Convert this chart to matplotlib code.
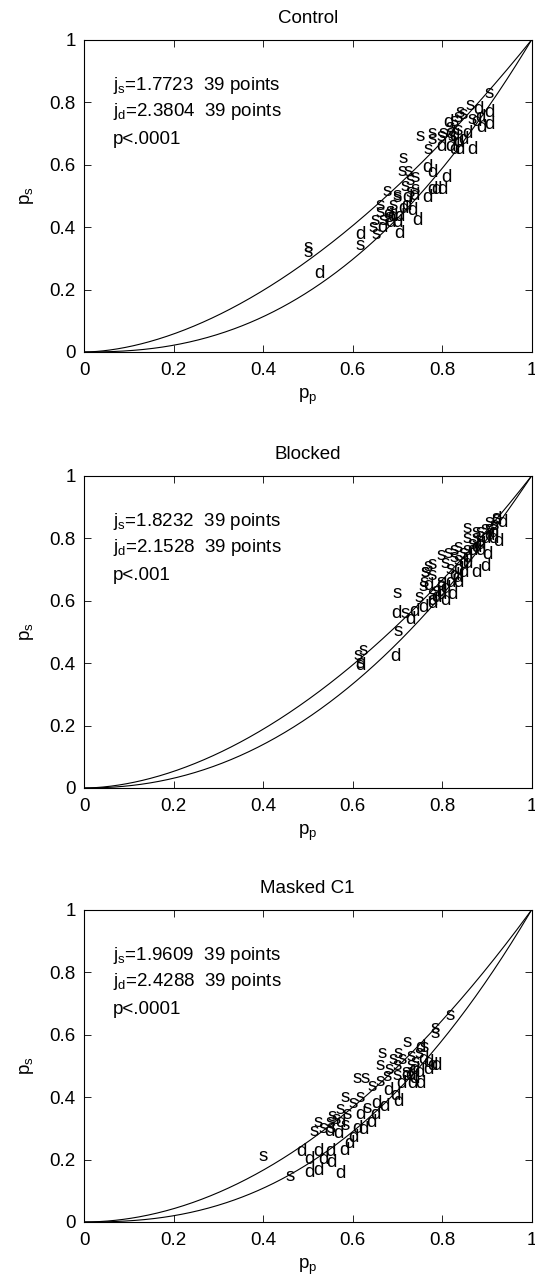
import matplotlib
matplotlib.use("Agg")
import matplotlib.pyplot as plt
import numpy as np

plt.rcParams['font.family'] = ['Liberation Sans', 'DejaVu Sans']
plt.rcParams['mathtext.fontset'] = 'custom'
plt.rcParams['mathtext.rm'] = 'Liberation Sans'
plt.rcParams['mathtext.it'] = 'Liberation Sans'
plt.rcParams['mathtext.default'] = 'regular'

titles = ["Control", "Blocked", "Masked C1"]
j_s = [1.7723, 1.8232, 1.9609]
j_d = [2.3804, 2.1528, 2.4288]
p_text = ["p<.0001", "p<.001", "p<.0001"]
n_points = [39, 39, 39]

# Panel 1 (Control)
ctrl_s_x = [0.905, 0.863, 0.840, 0.867, 0.837, 0.751, 0.778, 0.769, 0.802, 0.823, 0.713, 0.710, 0.724,
            0.729, 0.717, 0.729, 0.677, 0.661, 0.699, 0.690, 0.684, 0.661, 0.650, 0.668, 0.646, 0.652,
            0.617, 0.501, 0.501, 0.818, 0.827, 0.847, 0.779, 0.798, 0.739, 0.700, 0.681, 0.739, 0.837]
ctrl_s_y = [0.83, 0.79, 0.767, 0.745, 0.75, 0.69, 0.68, 0.65, 0.70, 0.69, 0.62, 0.58, 0.58,
            0.55, 0.53, 0.51, 0.515, 0.47, 0.495, 0.47, 0.45, 0.447, 0.42, 0.42, 0.40, 0.377,
            0.34, 0.335, 0.32, 0.72, 0.74, 0.76, 0.70, 0.69, 0.56, 0.50, 0.43, 0.52, 0.71]
ctrl_d_x = [0.882, 0.905, 0.814, 0.889, 0.905, 0.818, 0.840, 0.867, 0.847, 0.767, 0.779, 0.811, 0.788,
            0.802, 0.767, 0.722, 0.713, 0.733, 0.690, 0.706, 0.746, 0.684, 0.700, 0.668, 0.617, 0.706,
            0.527, 0.827, 0.837, 0.857, 0.876, 0.827, 0.798, 0.739, 0.720, 0.779, 0.681, 0.886, 0.818]
ctrl_d_y = [0.776, 0.767, 0.735, 0.72, 0.73, 0.66, 0.65, 0.65, 0.68, 0.59, 0.575, 0.56, 0.52,
            0.52, 0.495, 0.495, 0.46, 0.455, 0.435, 0.435, 0.42, 0.415, 0.415, 0.40, 0.377, 0.38,
            0.25, 0.69, 0.67, 0.70, 0.74, 0.65, 0.66, 0.50, 0.47, 0.52, 0.44, 0.75, 0.70]

# Panel 2 (Blocked)
blk_s_x = [0.856, 0.886, 0.906, 0.922, 0.916, 0.896, 0.876, 0.867, 0.857, 0.837, 0.814, 0.798, 0.827,
           0.779, 0.769, 0.762, 0.808, 0.837, 0.759, 0.762, 0.758, 0.779, 0.788, 0.798, 0.818, 0.847,
           0.699, 0.717, 0.702, 0.624, 0.612, 0.617, 0.886, 0.906, 0.779, 0.827, 0.857, 0.749, 0.876]
blk_s_y = [0.833, 0.82, 0.85, 0.865, 0.84, 0.83, 0.80, 0.78, 0.76, 0.77, 0.753, 0.745, 0.74,
           0.715, 0.71, 0.69, 0.72, 0.73, 0.66, 0.69, 0.645, 0.62, 0.63, 0.66, 0.70, 0.75,
           0.625, 0.56, 0.50, 0.44, 0.426, 0.40, 0.79, 0.83, 0.68, 0.76, 0.80, 0.61, 0.82]
blk_d_x = [0.925, 0.922, 0.901, 0.876, 0.896, 0.835, 0.823, 0.699, 0.739, 0.729, 0.697, 0.617, 0.769,
           0.779, 0.788, 0.798, 0.808, 0.818, 0.827, 0.837, 0.847, 0.857, 0.867, 0.876, 0.886, 0.896,
           0.906, 0.916, 0.935, 0.847, 0.798, 0.779, 0.759, 0.808, 0.857, 0.886, 0.916, 0.837, 0.798]
blk_d_y = [0.79, 0.86, 0.747, 0.69, 0.71, 0.676, 0.62, 0.56, 0.565, 0.54, 0.42, 0.394, 0.65,
           0.60, 0.61, 0.63, 0.64, 0.66, 0.68, 0.70, 0.72, 0.74, 0.76, 0.77, 0.78, 0.80,
           0.81, 0.82, 0.85, 0.69, 0.65, 0.59, 0.58, 0.60, 0.72, 0.76, 0.80, 0.66, 0.62]

# Panel 3 (Masked C1)
msk_s_x = [0.818, 0.784, 0.784, 0.722, 0.666, 0.702, 0.710, 0.730, 0.739, 0.700, 0.681, 0.720, 0.610,
           0.628, 0.677, 0.643, 0.583, 0.617, 0.602, 0.632, 0.554, 0.588, 0.523, 0.549, 0.563, 0.534,
           0.400, 0.460, 0.573, 0.661, 0.690, 0.749, 0.700, 0.553, 0.514, 0.583, 0.759, 0.661, 0.730]
msk_s_y = [0.663, 0.62, 0.605, 0.574, 0.54, 0.54, 0.52, 0.53, 0.51, 0.50, 0.49, 0.48, 0.46,
           0.46, 0.465, 0.433, 0.40, 0.40, 0.38, 0.365, 0.337, 0.343, 0.32, 0.32, 0.33, 0.30,
           0.21, 0.147, 0.36, 0.50, 0.52, 0.54, 0.47, 0.30, 0.29, 0.31, 0.56, 0.45, 0.50]
msk_d_x = [0.751, 0.759, 0.779, 0.788, 0.769, 0.739, 0.749, 0.730, 0.710, 0.733, 0.751, 0.695, 0.702,
           0.654, 0.651, 0.617, 0.573, 0.612, 0.624, 0.549, 0.568, 0.485, 0.504, 0.524, 0.553, 0.573,
           0.524, 0.550, 0.593, 0.602, 0.642, 0.681, 0.720, 0.504, 0.534, 0.583, 0.769, 0.739, 0.671]
msk_d_y = [0.56, 0.52, 0.50, 0.50, 0.49, 0.49, 0.48, 0.47, 0.445, 0.445, 0.445, 0.407, 0.385,
           0.38, 0.343, 0.343, 0.32, 0.30, 0.295, 0.29, 0.285, 0.225, 0.16, 0.165, 0.19, 0.157,
           0.225, 0.225, 0.25, 0.27, 0.32, 0.42, 0.47, 0.20, 0.20, 0.23, 0.51, 0.46, 0.37]

panels = [
    (ctrl_s_x, ctrl_s_y, ctrl_d_x, ctrl_d_y),
    (blk_s_x, blk_s_y, blk_d_x, blk_d_y),
    (msk_s_x, msk_s_y, msk_d_x, msk_d_y),
]
ticks = [0, 0.2, 0.4, 0.6, 0.8, 1]
tick_labels = ["0", "0.2", "0.4", "0.6", "0.8", "1"]

W, H = 535, 1282
fig = plt.figure(figsize=(W / 100, H / 100), dpi=100)
fs = 13.5
tops = [40, 476, 910]
left_px, right_px, h_px = 84, 531.5, 312

xx = np.linspace(0, 1, 400)
for i, (sx, sy, dx, dy) in enumerate(panels):
    top = tops[i]
    ax = fig.add_axes([left_px / W, (H - top - h_px) / H, (right_px - left_px) / W, h_px / H])
    ax.plot(xx, xx ** j_s[i], color='black', lw=0.8)
    ax.plot(xx, xx ** j_d[i], color='black', lw=0.8)
    for x, y in zip(sx, sy):
        ax.text(x, y, 's', ha='center', va='center', fontsize=fs)
    for x, y in zip(dx, dy):
        ax.text(x, y, 'd', ha='center', va='center', fontsize=fs)
    ax.set_xlim(0, 1)
    ax.set_ylim(0, 1)
    ax.set_xticks(ticks)
    ax.set_yticks(ticks)
    ax.set_xticklabels(tick_labels, fontsize=fs)
    ax.set_yticklabels(tick_labels, fontsize=fs)
    ax.tick_params(axis='x', direction='in', top=True, length=5, width=0.6, pad=7)
    ax.tick_params(axis='y', direction='in', right=True, length=5, width=0.6, pad=6)
    for sp in ax.spines.values():
        sp.set_linewidth(0.8)
    ax.set_title(titles[i], fontsize=fs, pad=12.5)
    ax.set_xlabel(r'$p_p$', fontsize=fs, labelpad=6)
    ax.set_ylabel(r'$p_s$', fontsize=fs, labelpad=10)
    ax.text(0.065, 0.855, r'$j_s$=%.4f  %d points' % (j_s[i], n_points[i]), fontsize=fs,
            ha='left', va='center')
    ax.text(0.065, 0.77, r'$j_d$=%.4f  %d points' % (j_d[i], n_points[i]), fontsize=fs,
            ha='left', va='center')
    ax.text(0.065, 0.68, p_text[i], fontsize=fs, ha='left', va='center')

fig.savefig("out.png", dpi=100)
